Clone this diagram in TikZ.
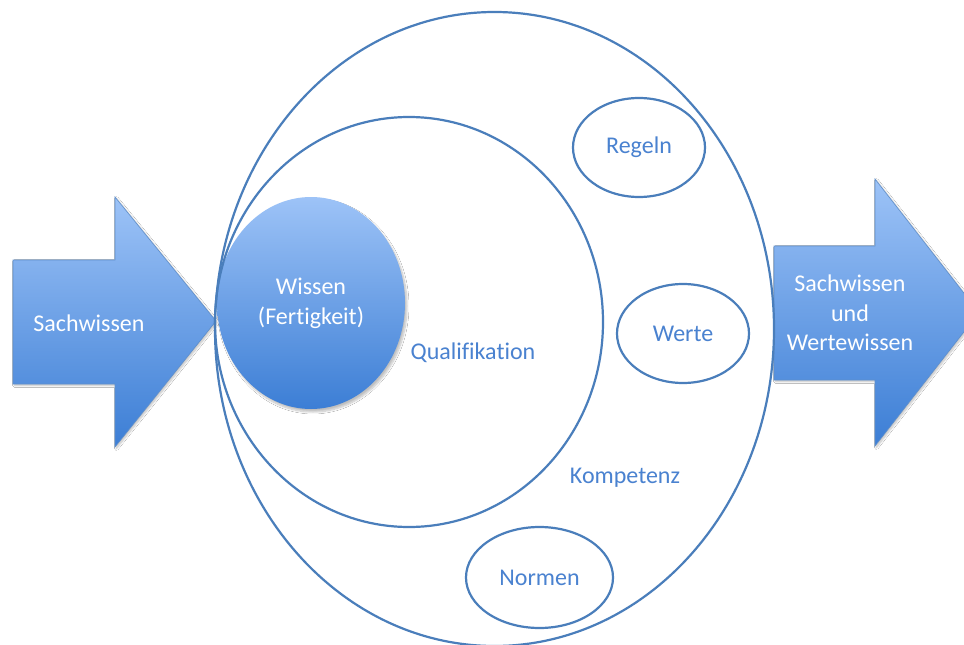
\documentclass[tikz,border=0pt]{standalone}
\usepackage{fontspec}
\setmainfont{Carlito}[Ligatures=CommonOff]
\usetikzlibrary{shapes.geometric,shadows.blur}
\definecolor{edgeblue}{HTML}{4A7EBB}
\definecolor{textblue}{HTML}{4A82D0}
\definecolor{filltop}{HTML}{9DC3F7}
\definecolor{fillbot}{HTML}{3C7ED5}
\definecolor{arrowedge}{HTML}{5E8FCC}
\tikzset{
  ring/.style={ellipse, draw=edgeblue, line width=2.2pt, inner sep=0pt, outer sep=0pt},
  bubble/.style={ring, font=\fontsize{24}{28}\selectfont, text=textblue},
  label/.style={font=\fontsize{24}{28}\selectfont, text=textblue, inner sep=0pt},
  whitetext/.style={font=\fontsize{24}{29.5}\selectfont, text=white, align=center, inner sep=0pt},
  bluefill/.style={top color=filltop, bottom color=fillbot},
  bigarrow/.style={bluefill, draw=arrowedge, line width=0.6pt,
    blur shadow={shadow xshift=1.5pt, shadow yshift=-1.5pt, shadow opacity=25, shadow blur steps=6}},
}
\begin{document}
\begin{tikzpicture}[x=1pt, y=-1pt]
  \clip (0,0) rectangle (964,645);
  \fill[white] (0,0) rectangle (964,645);

  % input arrow
  \path[bigarrow] (13,260) -- (115,260) -- (115,197) -- (216,321) -- (115,447)
    -- (115,384) -- (13,384) -- cycle;
  \node[whitetext] (sach) at (89,323) {Sachwissen};

  % output arrow (its tip runs past the right edge)
  \path[bigarrow] (774,246) -- (875,246) -- (875,179) -- (979,312.5) -- (875,446)
    -- (875,380) -- (774,380) -- cycle;
  \node[whitetext] (sachwerte) at (850,313) {Sachwissen\\und\\Wertewissen};

  % knowledge core
  \node[ellipse, bluefill, inner sep=0pt, minimum width=188pt, minimum height=212pt,
    blur shadow={shadow xshift=2pt, shadow yshift=-3pt, shadow opacity=25, shadow blur steps=8}]
    (wissen) at (311,303) {};
  \node[whitetext] (wissentext) at (311,303.5) {Wissen\\(Fertigkeit)};

  % nested areas
  \node[ring, minimum width=559pt, minimum height=634pt] (kompetenz) at (494.5,329) {};
  \node[ring, minimum width=388pt, minimum height=410pt] (qualifikation) at (409,322) {};

  \node[label] (qtext) at (473,353) {Qualifikation};
  \node[label] (ktext) at (625,478) {Kompetenz};

  % elements of competence
  \node[bubble, minimum width=132pt, minimum height=99pt] (regeln) at (639,147.5) {Regeln};
  \node[bubble, minimum width=132pt, minimum height=99pt] (werte) at (683,333.5) {Werte};
  \node[bubble, minimum width=147pt, minimum height=101pt] (normen) at (539.5,577.5) {Normen};
\end{tikzpicture}
\end{document}
